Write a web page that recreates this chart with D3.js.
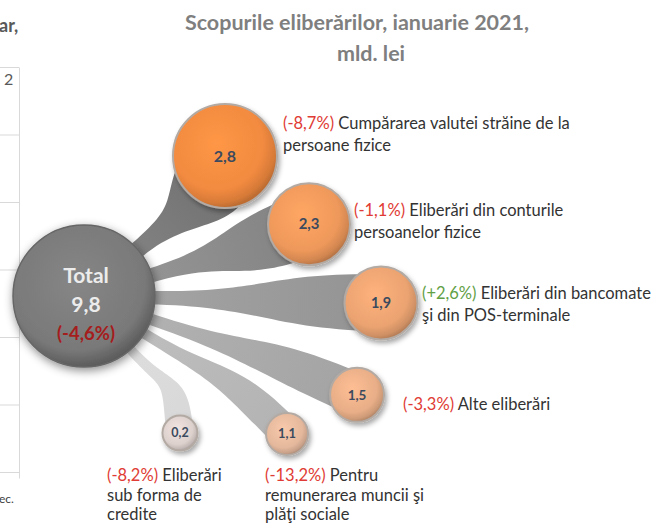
<!DOCTYPE html>
<html><head><meta charset="utf-8">
<script src="https://cdn.jsdelivr.net/npm/d3@7"></script>
<style>body{margin:0;background:#fff;} svg{display:block;font-family:Lato,"Open Sans",sans-serif;}</style>
</head><body><svg id="chart" width="656" height="525"></svg>
<script>
// ---------- data ----------
const titleLines = ["Scopurile eliberărilor, ianuarie 2021,", "mld. lei"];
const totalLabel = "Total";
const totalValue = 9.8;
const totalChange = -4.6;
const categories = [
  "Cumpărarea valutei străine de la persoane fizice",
  "Eliberări din conturile persoanelor fizice",
  "Eliberări din bancomate şi din POS-terminale",
  "Alte eliberări",
  "Pentru remunerarea muncii şi plăţi sociale",
  "Eliberări sub forma de credite"
];
const labelLines = [
  ["Cumpărarea valutei străine de la", "persoane fizice"],
  ["Eliberări din conturile", "persoanelor fizice"],
  ["Eliberări din bancomate", "şi din POS-terminale"],
  ["Alte eliberări"],
  ["Pentru", "remunerarea muncii şi", "plăţi sociale"],
  ["Eliberări", "sub forma de", "credite"]
];
const values  = [2.8, 2.3, 1.9, 1.5, 1.1, 0.2];
const changes = [-8.7, -1.1, 2.6, -3.3, -13.2, -8.2];
// fragment of the neighbouring chart (cut off at the left edge)
const fragTexts = ["ar,", "2", "ec."];
const fragRows = [0, 1, 2, 3, 4, 5, 6];

// ---------- setup ----------
const svg = d3.select("#chart");
const defs = svg.append("defs");
const loc = d3.formatLocale({decimal: ",", thousands: " ", grouping: [3], currency: ["", ""], minus: "-"});
const fmt = loc.format(".1f");
const fmtPct = v => "(" + loc.format(v > 0 ? "+.1f" : ".1f")(v) + "%)";
const rad = d => d * Math.PI / 180;

const C = {x: 84, y: 296}, R = 71;
const angle  = d3.scaleOrdinal().domain(categories).range([-44.8, -17.7, 1.35, 19.9, 34.2, 55]);
const dist   = d3.scaleOrdinal().domain(categories).range([198.7, 236.2, 297.1, 290.4, 245.5, 167.3]);
const radius = d3.scaleOrdinal().domain(categories).range([52, 41, 36.5, 27, 21, 17.5]);
const labelX = d3.scaleOrdinal().domain(categories).range([283, 354, 422, 403, 265, 107]);
const labelY = d3.scaleOrdinal().domain(categories).range([129, 216, 299, 410, 481, 481]);
const lineH  = d3.scaleOrdinal().domain(categories).range([22, 22, 22, 22, 19.5, 19.5]);
const fillColor = d3.scaleLinear().domain([0.2, 2.8]).range(["#ddd1cd", "#f28a40"]);
const bandColor = d3.scaleLinear().domain([0.2, 2.8]).range(["#d8d8d8", "#6e6e6e"]);
const valueSize = d3.scaleLinear().domain([17.5, 52]).range([12.5, 16]);

const items = categories.map((c, i) => {
  const a = angle(c), d = dist(c);
  return {cat: c, value: values[i], change: changes[i], lines: labelLines[i], i,
    a, r: radius(c),
    x: C.x + d * Math.cos(rad(a)), y: C.y + d * Math.sin(rad(a)), d};
});

// filters
const f1 = defs.append("filter").attr("id", "shadow").attr("x", "-40%").attr("y", "-40%").attr("width", "180%").attr("height", "180%");
f1.append("feDropShadow").attr("dx", 2).attr("dy", 3).attr("stdDeviation", 2.5).attr("flood-color", "#000").attr("flood-opacity", 0.35);
const f2 = defs.append("filter").attr("id", "shadowBig").attr("x", "-40%").attr("y", "-40%").attr("width", "180%").attr("height", "180%");
f2.append("feDropShadow").attr("dx", 1).attr("dy", 3).attr("stdDeviation", 5).attr("flood-color", "#000").attr("flood-opacity", 0.45);

// ---------- left fragment ----------
const frag = svg.append("g");
const rowY = d3.scaleLinear().domain([0, 6]).range([67.5, 472.5]);
frag.selectAll("line.h").data(fragRows).join("line")
  .attr("x1", 0).attr("x2", 19).attr("y1", d => rowY(d)).attr("y2", d => rowY(d))
  .attr("stroke", "#d9d9d9").attr("stroke-width", 1);
frag.append("line").attr("x1", 19.5).attr("x2", 19.5).attr("y1", rowY(0)).attr("y2", rowY(6) + 6)
  .attr("stroke", "#d9d9d9");
frag.append("text").attr("x", -1).attr("y", 32).attr("font-weight", 700).attr("font-size", 18).attr("fill", "#595959").text(fragTexts[0]);
frag.append("text").attr("x", 4).attr("y", 85).attr("font-size", 16).attr("fill", "#595959").text(fragTexts[1]);
frag.append("text").attr("x", -1).attr("y", 503).attr("font-size", 12).attr("fill", "#404040").text(fragTexts[2]);

// ---------- title ----------
svg.append("text").attr("x", 357).attr("y", 30).attr("text-anchor", "middle")
  .attr("font-weight", 700).attr("font-size", 21.5).attr("fill", "#7f7f7f").text(titleLines[0]);
svg.append("text").attr("x", 371).attr("y", 61).attr("text-anchor", "middle")
  .attr("font-weight", 700).attr("font-size", 21.5).attr("fill", "#7f7f7f").text(titleLines[1]);

// ---------- bands ----------
function bandPath(it) {
  const bend = it.a * Math.abs(it.a) / 100;           // outer bands curve
  const as = rad(it.a - 0.2 * bend);                  // start angle on total circle
  const phi = rad(it.a + 180 + bend);                 // entry direction at satellite
  const ds = [Math.cos(as), Math.sin(as)], ns = [-ds[1], ds[0]];
  const u = [Math.cos(phi), Math.sin(phi)], ne = [u[1], -u[0]];
  const w0 = 3 + 0.1 * it.r, w1 = 0.78 * it.r;
  const L = 0.38 * it.d;
  const T = s => [C.x + (R - 6) * ds[0] + s * w0 * ns[0], C.y + (R - 6) * ds[1] + s * w0 * ns[1]];
  const E = s => [it.x + s * w1 * ne[0], it.y + s * w1 * ne[1]];
  const P1 = s => { const t = T(s); return [t[0] + L * ds[0], t[1] + L * ds[1]]; };
  const P2 = s => { const e = E(s); return [e[0] + L * u[0], e[1] + L * u[1]]; };
  const p = d3.path();
  p.moveTo(...T(1));
  p.bezierCurveTo(...P1(1), ...P2(1), ...E(1));
  p.lineTo(...E(-1));
  p.bezierCurveTo(...P2(-1), ...P1(-1), ...T(-1));
  p.closePath();
  return p.toString();
}
items.forEach(it => {
  const g = defs.append("linearGradient").attr("id", "bg" + it.i).attr("gradientUnits", "userSpaceOnUse")
    .attr("x1", C.x).attr("y1", C.y).attr("x2", it.x).attr("y2", it.y);
  const col = bandColor(it.value);
  g.append("stop").attr("offset", "25%").attr("stop-color", d3.interpolateRgb(col, "#ffffff")(0.15));
  g.append("stop").attr("offset", "100%").attr("stop-color", col);
});
svg.append("g").selectAll("path").data(items).join("path")
  .attr("d", bandPath).attr("fill", d => `url(#bg${d.i})`);

// ---------- total circle ----------
const tg = defs.append("radialGradient").attr("id", "tgrad").attr("cx", "45%").attr("cy", "40%").attr("r", "60%");
tg.append("stop").attr("offset", "0%").attr("stop-color", "#868686");
tg.append("stop").attr("offset", "80%").attr("stop-color", "#797979");
tg.append("stop").attr("offset", "100%").attr("stop-color", "#5c5c5c");
svg.append("circle").attr("cx", C.x).attr("cy", C.y).attr("r", R)
  .attr("fill", "url(#tgrad)").attr("stroke", "#666").attr("stroke-width", 1.5).attr("filter", "url(#shadowBig)");
svg.append("text").attr("x", C.x + 2).attr("y", 283).attr("text-anchor", "middle").attr("font-weight", 700)
  .attr("font-size", 21).attr("fill", "#ececec").text(totalLabel);
svg.append("text").attr("x", C.x + 2).attr("y", 312).attr("text-anchor", "middle").attr("font-weight", 700)
  .attr("font-size", 21).attr("fill", "#ececec").text(fmt(totalValue));
svg.append("text").attr("x", C.x + 2).attr("y", 340).attr("text-anchor", "middle").attr("font-weight", 700)
  .attr("font-size", 18.5).attr("fill", "#a51d1d").text(fmtPct(totalChange));

// ---------- satellite circles ----------
items.forEach(it => {
  const base = d3.color(fillColor(it.value));
  const g = defs.append("radialGradient").attr("id", "cg" + it.i).attr("cx", "42%").attr("cy", "38%").attr("r", "62%");
  g.append("stop").attr("offset", "0%").attr("stop-color", base.brighter(0.25));
  g.append("stop").attr("offset", "72%").attr("stop-color", base);
  g.append("stop").attr("offset", "92%").attr("stop-color", base.darker(0.35));
  g.append("stop").attr("offset", "100%").attr("stop-color", base.darker(0.7));
});
const sat = svg.append("g").selectAll("g").data(items).join("g");
sat.append("circle").attr("cx", d => d.x).attr("cy", d => d.y).attr("r", d => d.r)
  .attr("fill", d => `url(#cg${d.i})`).attr("stroke", "#b3aaa4").attr("stroke-width", 2)
  .attr("filter", "url(#shadow)");
sat.append("text").attr("x", d => d.x).attr("y", d => d.y).attr("dy", "0.35em")
  .attr("text-anchor", "middle").attr("font-weight", 700)
  .attr("font-size", d => valueSize(d.r)).attr("fill", "#3b4a5e").text(d => fmt(d.value));

// ---------- labels ----------
const lab = svg.append("g").attr("font-size", 16.5).attr("fill", "#333");
items.forEach(it => {
  const t = lab.append("text").attr("x", labelX(it.cat)).attr("y", labelY(it.cat));
  it.lines.forEach((ln, k) => {
    const ts = t.append("tspan").attr("x", labelX(it.cat)).attr("dy", k === 0 ? 0 : lineH(it.cat));
    if (k === 0) {
      ts.append("tspan").attr("fill", it.change > 0 ? "#62a046" : "#e03b34").text(fmtPct(it.change));
      ts.append("tspan").text(" " + ln);
    } else ts.text(ln);
  });
});
</script></body></html>
